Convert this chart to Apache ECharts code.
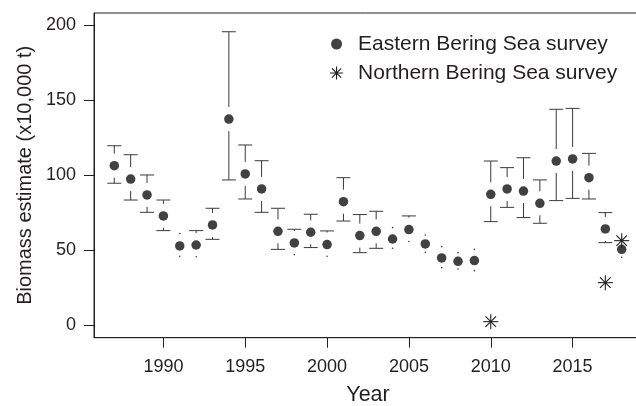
<!DOCTYPE html>
<html>
<head>
<meta charset="utf-8">
<script src="https://cdn.jsdelivr.net/npm/echarts@6/dist/echarts.min.js"></script>
<style>html,body{margin:0;background:#fff}#main{width:636px;height:406px}</style>
</head>
<body>
<div id="main"></div>
<script>
// survey years and biomass (x10,000 t)
var years = [1987, 1988, 1989, 1990, 1991, 1992, 1993, 1994, 1995, 1996, 1997, 1998, 1999, 2000, 2001, 2002,
    2003, 2004, 2005, 2006, 2007, 2008, 2009, 2010, 2011, 2012, 2013, 2014, 2015, 2016, 2017, 2018];
var ebsBiomass = [106.2, 97.3, 86.7, 72.7, 52.7, 53.3, 66.7, 137.3, 100.7, 90.7, 62.4, 54.7, 61.8, 53.6, 82.2, 59.6,
    62.4, 57.3, 63.6, 54.0, 44.7, 42.4, 42.9, 87.1, 90.7, 89.3, 81.1, 109.3, 110.7, 98.2, 64.0, 50.4];
var ebsLower = [94.5, 83.3, 75.1, 62.9, 45.8, 45.5, 57.1, 96.7, 84.0, 75.1, 50.4, 46.9, 51.6, 45.8, 69.3, 48.2,
    51.1, 51.1, 55.6, 48.4, 38.2, 37.3, 36.2, 68.9, 78.4, 71.6, 67.8, 82.9, 84.4, 84.0, 54.9, 45.1];
var ebsUpper = [119.5, 113.5, 100.0, 83.3, 61.0, 62.9, 77.8, 195.5, 120.0, 109.5, 77.8, 63.8, 73.8, 62.7, 98.2, 73.6,
    75.8, 64.9, 72.7, 60.0, 52.2, 48.2, 50.4, 109.3, 104.9, 111.5, 96.7, 143.8, 144.4, 114.4, 74.9, 57.0];
var nbsYears = [2010, 2017, 2018];
var nbsBiomass = [2.2, 28.2, 56.2];
var xTicks = [1990, 1995, 2000, 2005, 2010, 2015];
var yTicks = [0, 50, 100, 150, 200];

var ink = '#231f20';
var barInk = '#3a3a3a';
var font = 'Liberation Sans, Arial, Helvetica, sans-serif';

var chart = echarts.init(document.getElementById('main'));

var ciData = years.map(function (y, i) {
    return [y, ebsBiomass[i], ebsLower[i], ebsUpper[i]];
});
var nbsData = nbsYears.map(function (y, i) {
    return [y, nbsBiomass[i]];
});

// error bar with a gap round the point, like plotCI
function renderCI(params, api) {
    var p = api.coord([api.value(0), api.value(1)]);
    var lo = api.coord([api.value(0), api.value(2)])[1];
    var hi = api.coord([api.value(0), api.value(3)])[1];
    var gap = 12, cap = 7;
    var st = { stroke: barInk, lineWidth: 1 };
    var kids = [];
    [[hi, -1], [lo, 1]].forEach(function (b) {
        var end = b[0], dir = b[1];
        var start = p[1] + dir * gap;
        if ((end - start) * dir > 0.5) {
            kids.push({ type: 'line', shape: { x1: p[0], y1: start, x2: p[0], y2: end }, style: st });
            kids.push({ type: 'line', shape: { x1: p[0] - cap, y1: end, x2: p[0] + cap, y2: end }, style: st });
        } else {
            kids.push({ type: 'circle', shape: { cx: p[0], cy: end, r: 0.8 }, style: { fill: barInk } });
        }
    });
    return { type: 'group', children: kids };
}

// asterisk, pch 8
function renderStar(params, api) {
    var p = api.coord([api.value(0), api.value(1)]);
    var r = 7.5, d = r * 0.7071;
    var segs = [[0, -r, 0, r], [-r, 0, r, 0], [-d, -d, d, d], [-d, d, d, -d]];
    return {
        type: 'group',
        children: segs.map(function (s) {
            return {
                type: 'line',
                shape: { x1: p[0] + s[0], y1: p[1] + s[1], x2: p[0] + s[2], y2: p[1] + s[3] },
                style: { stroke: ink, lineWidth: 1.1 }
            };
        })
    };
}

var opt = {
    animation: false,
    grid: {
        left: 94, top: 13, width: 548, height: 324.7,
        outerBoundsMode: 'none',
        show: true, borderColor: ink, borderWidth: 1
    },
    legend: {
        orient: 'vertical',
        left: 324.5,
        top: 28,
        itemWidth: 13,
        itemHeight: 13,
        itemGap: 7,
        selectedMode: false,
        textStyle: { fontFamily: font, fontSize: 21, color: ink, padding: [0, 0, 0, 10], lineHeight: 22 },
        data: [
            {
                name: 'Eastern Bering Sea survey',
                icon: 'path://M0,0L0.01,0L0,0.01ZM13,13L12.99,13L13,12.99ZM1,6.5A5.5,5.5,0,1,1,12,6.5A5.5,5.5,0,1,1,1,6.5Z',
                itemStyle: { color: '#111' }
            },
            {
                name: 'Northern Bering Sea survey',
                icon: 'path://M6.5,0L6.5,13M0,6.5L13,6.5M1.9,1.9L11.1,11.1M1.9,11.1L11.1,1.9',
                itemStyle: { color: 'rgba(0,0,0,0)', borderColor: ink, borderWidth: 1.1 }
            }
        ]
    },
    xAxis: {
        type: 'value',
        min: 1985.76,
        max: 2019.24,
        name: 'Year',
        nameLocation: 'middle',
        nameGap: 46,
        nameTextStyle: { fontFamily: font, fontSize: 21.5, color: ink },
        axisLine: { onZero: false, lineStyle: { color: ink, width: 1 } },
        axisTick: { length: 10, customValues: xTicks, lineStyle: { color: ink } },
        axisLabel: {
            customValues: xTicks, margin: 20, fontFamily: font, fontSize: 18, color: ink,
            formatter: function (v) { return String(v); }
        },
        splitLine: { show: false }
    },
    yAxis: {
        type: 'value',
        min: -8.5,
        max: 208,
        name: 'Biomass estimate (x10,000 t)',
        nameLocation: 'middle',
        nameRotate: 90,
        nameGap: 59,
        nameTextStyle: { fontFamily: font, fontSize: 20, color: ink },
        axisLine: { lineStyle: { color: ink, width: 1 } },
        axisTick: { length: 10, customValues: yTicks, lineStyle: { color: ink } },
        axisLabel: { customValues: yTicks, margin: 18, fontFamily: font, fontSize: 18, color: ink },
        splitLine: { show: false }
    },
    series: [
        {
            type: 'custom',
            name: 'ci',
            renderItem: renderCI,
            data: ciData,
            encode: { x: 0, y: [1, 2, 3] },
            z: 2
        },
        {
            type: 'scatter',
            name: 'Eastern Bering Sea survey',
            data: years.map(function (y, i) { return [y, ebsBiomass[i]]; }),
            symbol: 'circle',
            symbolSize: 9.5,
            itemStyle: { color: '#111' },
            z: 3
        },
        {
            type: 'custom',
            name: 'Northern Bering Sea survey',
            renderItem: renderStar,
            data: nbsData,
            encode: { x: 0, y: 1 },
            itemStyle: { color: ink },
            z: 4
        }
    ]
};
chart.setOption(opt);
</script>
</body>
</html>
